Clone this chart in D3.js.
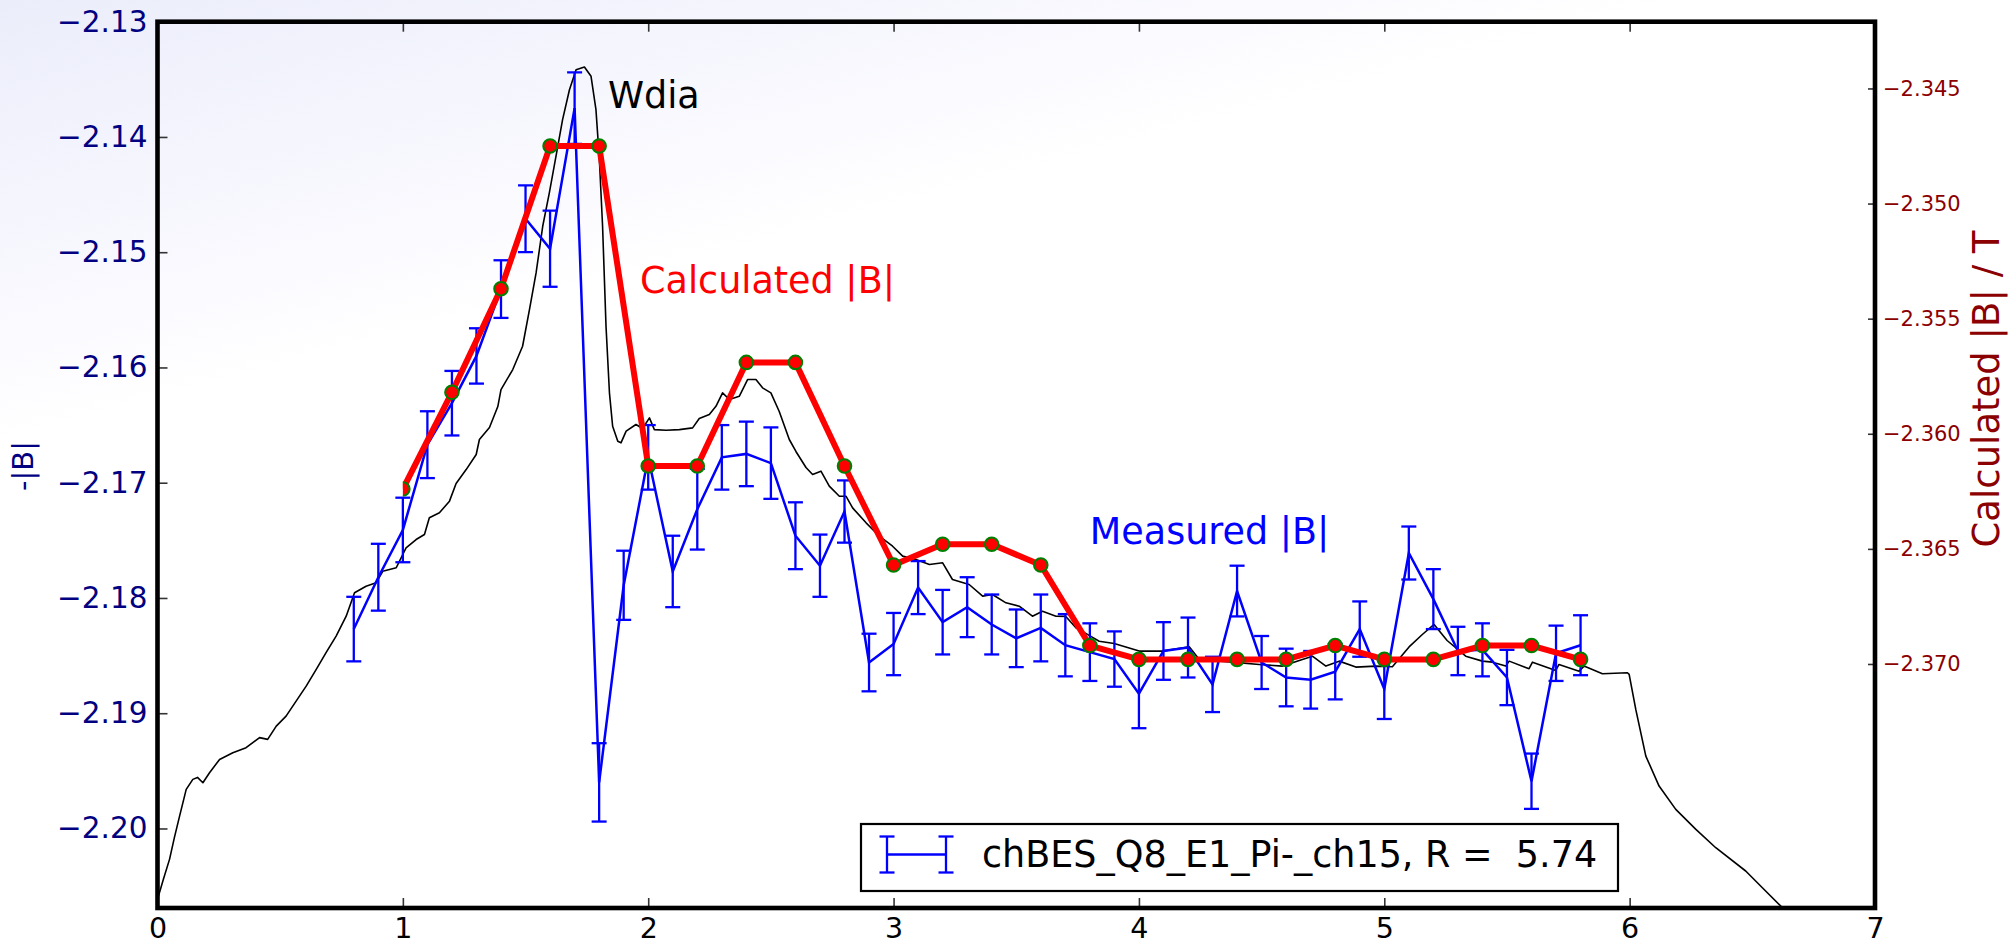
<!DOCTYPE html>
<html>
<head>
<meta charset="utf-8">
<script src="https://cdn.jsdelivr.net/npm/d3@7"></script>
<style>
  html, body { margin: 0; padding: 0; background: #fff; }
  svg { display: block; font-family: "DejaVu Sans", sans-serif; }
</style>
</head>
<body>
<svg id="chart" width="2015" height="946"></svg>
<script>
// ---- Measured |B| (left axis), with error bars ----
const measX = [0.8, 0.9, 1.0, 1.1, 1.2, 1.3, 1.4, 1.5, 1.6, 1.7,
               1.8, 1.9, 2.0, 2.1, 2.2, 2.3, 2.4, 2.5, 2.6, 2.7,
               2.8, 2.9, 3.0, 3.1, 3.2, 3.3, 3.4, 3.5, 3.6, 3.7,
               3.8, 3.9, 4.0, 4.1, 4.2, 4.3, 4.4, 4.5, 4.6, 4.7,
               4.8, 4.9, 5.0, 5.1, 5.2, 5.3, 5.4, 5.5, 5.6, 5.7, 5.8];
const measY = [-2.1827, -2.1782, -2.1741, -2.1667, -2.1631, -2.1590, -2.1532, -2.1471, -2.1497, -2.1375,
               -2.1960, -2.1789, -2.1678, -2.1777, -2.1723, -2.1678, -2.1675, -2.1683, -2.1746, -2.1772,
               -2.1725, -2.1856, -2.1840, -2.1791, -2.1821, -2.1808, -2.1823, -2.1835, -2.1826, -2.1841,
               -2.1847, -2.1853, -2.1883, -2.1846, -2.1843, -2.1875, -2.1794, -2.1856, -2.1869, -2.1871,
               -2.1864, -2.1827, -2.1879, -2.1761, -2.1801, -2.1846, -2.1845, -2.1869, -2.1959, -2.1848, -2.1841];
const measErr = [0.0028, 0.0029, 0.0028, 0.0029, 0.0028, 0.0024, 0.0025, 0.0029, 0.0033, 0.0031,
                 0.0034, 0.0030, 0.0028, 0.0031, 0.0035, 0.0028, 0.0028, 0.0031, 0.0029, 0.0027,
                 0.0027, 0.0025, 0.0027, 0.0023, 0.0028, 0.0026, 0.0026, 0.0025, 0.0029, 0.0027,
                 0.0025, 0.0024, 0.0030, 0.0025, 0.0026, 0.0024, 0.0022, 0.0023, 0.0025, 0.0025,
                 0.0024, 0.0024, 0.0026, 0.0023, 0.0026, 0.0021, 0.0023, 0.0024, 0.0024, 0.0024, 0.0026];

// ---- Calculated |B| (right axis) ----
const calcX = [1.0, 1.2, 1.4, 1.6, 1.8, 2.0, 2.2, 2.4, 2.6, 2.8, 3.0, 3.2, 3.4,
               3.6, 3.8, 4.0, 4.2, 4.4, 4.6, 4.8, 5.0, 5.2, 5.4, 5.6, 5.8];
const calcY = [-2.3624, -2.3582, -2.3537, -2.3475, -2.3475, -2.3614, -2.3614, -2.3569, -2.3569,
               -2.3614, -2.3657, -2.3648, -2.3648, -2.3657, -2.3692, -2.3698, -2.3698, -2.3698,
               -2.3698, -2.3692, -2.3698, -2.3698, -2.3692, -2.3692, -2.3698];

// ---- Wdia trace (left axis) ----
const wdiaX = [0.000, 0.024, 0.049, 0.069, 0.090, 0.117, 0.144, 0.163, 0.185, 0.212,
               0.253, 0.307, 0.361, 0.416, 0.449, 0.484, 0.524, 0.565, 0.606, 0.647,
               0.687, 0.728, 0.769, 0.803, 0.850, 0.891, 0.918, 0.973, 1.013, 1.054,
               1.088, 1.108, 1.149, 1.190, 1.217, 1.258, 1.299, 1.312, 1.353, 1.387,
               1.400, 1.448, 1.488, 1.516, 1.543, 1.570, 1.597, 1.624, 1.651, 1.679,
               1.706, 1.740, 1.767, 1.787, 1.801, 1.814, 1.828, 1.842, 1.855, 1.876,
               1.889, 1.910, 1.950, 1.977, 2.005, 2.025, 2.073, 2.127, 2.181, 2.208,
               2.249, 2.276, 2.303, 2.331, 2.371, 2.405, 2.439, 2.466, 2.500, 2.534,
               2.575, 2.602, 2.643, 2.670, 2.704, 2.738, 2.779, 2.806, 2.833, 2.888,
               2.942, 2.996, 3.037, 3.091, 3.146, 3.200, 3.240, 3.308, 3.363, 3.403,
               3.458, 3.512, 3.566, 3.607, 3.662, 3.702, 3.743, 3.797, 3.838, 3.899,
               4.001, 4.096, 4.205, 4.246, 4.381, 4.490, 4.585, 4.707, 4.762, 4.816,
               4.884, 4.966, 5.033, 5.101, 5.155, 5.203, 5.256, 5.332, 5.400, 5.441,
               5.495, 5.509, 5.590, 5.604, 5.699, 5.712, 5.794, 5.814, 5.889, 5.991,
               5.998, 6.025, 6.066, 6.120, 6.188, 6.270, 6.351, 6.473, 6.541, 6.616, 6.670];
const wdiaY = [-2.20615, -2.20441, -2.20268, -2.20077, -2.19893, -2.19661, -2.19574, -2.19557, -2.19603, -2.19516,
               -2.19401, -2.19343, -2.19299, -2.19212, -2.19227, -2.19112, -2.19025, -2.18895, -2.18765, -2.18620,
               -2.18475, -2.18331, -2.18158, -2.17955, -2.17898, -2.17868, -2.17768, -2.17738, -2.17565, -2.17493,
               -2.17449, -2.17304, -2.17261, -2.17160, -2.17007, -2.16886, -2.16755, -2.16625, -2.16521, -2.16339,
               -2.16192, -2.16018, -2.15816, -2.15498, -2.15180, -2.14775, -2.14486, -2.14168, -2.13850, -2.13590,
               -2.13416, -2.13393, -2.13474, -2.13763, -2.14197, -2.14775, -2.15643, -2.16220, -2.16510, -2.16640,
               -2.16654, -2.16553, -2.16495, -2.16530, -2.16437, -2.16539, -2.16545, -2.16539, -2.16524, -2.16443,
               -2.16408, -2.16337, -2.16220, -2.16278, -2.16250, -2.16105, -2.16105, -2.16177, -2.16220, -2.16382,
               -2.16625, -2.16729, -2.16868, -2.16929, -2.16900, -2.17030, -2.17117, -2.17117, -2.17218, -2.17348,
               -2.17464, -2.17551, -2.17637, -2.17666, -2.17709, -2.17695, -2.17840, -2.17883, -2.17984, -2.17970,
               -2.18042, -2.18071, -2.18158, -2.18115, -2.18158, -2.18160, -2.18258, -2.18325, -2.18375, -2.18395,
               -2.18461, -2.18461, -2.18423, -2.18533, -2.18557, -2.18577, -2.18591, -2.18505, -2.18591, -2.18548,
               -2.18600, -2.18591, -2.18597, -2.18425, -2.18317, -2.18230, -2.18369, -2.18505, -2.18548, -2.18557,
               -2.18591, -2.18548, -2.18614, -2.18557, -2.18629, -2.18577, -2.18635, -2.18591, -2.18657, -2.18649,
               -2.18663, -2.18967, -2.19372, -2.19632, -2.19834, -2.20008, -2.20167, -2.20369, -2.20514, -2.20673, -2.20788];

// ---- Axis ticks and labels ----
const xTicks = [0, 1, 2, 3, 4, 5, 6, 7];
const leftTicks = [-2.13, -2.14, -2.15, -2.16, -2.17, -2.18, -2.19, -2.20];
const rightTicks = [-2.345, -2.350, -2.355, -2.360, -2.365, -2.370];
const leftAxisLabel = "-|B|";
const rightAxisLabel = "Calculated |B| / T";
const legendLabel = "chBES_Q8_E1_Pi-_ch15, R =  5.74";
// text annotations, in (x, left-axis) data units
const notes = [
  { text: "Wdia",           x: 1.836, y: -2.13752, color: "#000000" },
  { text: "Calculated |B|", x: 1.967, y: -2.15357, color: "#ff0000" },
  { text: "Measured |B|",   x: 3.800, y: -2.17533, color: "#0000ff" }
];

// ---------------------------------------------------------------
const svg = d3.select("#chart");
const W = 2015, H = 946;
const plot = { left: 157.5, right: 1875, top: 21.7, bottom: 908 };

const x  = d3.scaleLinear().domain([0, 7]).range([plot.left, plot.right]);
const yL = d3.scaleLinear().domain([-2.2069, -2.13]).range([plot.bottom, plot.top]);
const yR = d3.scaleLinear().domain([-2.3806, -2.3421]).range([plot.bottom, plot.top]);

const defs = svg.append("defs");
// soft lavender wash from the top-left corner of the figure
const grad = defs.append("linearGradient")
  .attr("id", "bgGrad").attr("gradientUnits", "userSpaceOnUse")
  .attr("x1", 0).attr("y1", 0).attr("x2", 110).attr("y2", 415);
grad.append("stop").attr("offset", 0).attr("stop-color", "#ebedfa");
grad.append("stop").attr("offset", 0.45).attr("stop-color", "#f4f5fd");
grad.append("stop").attr("offset", 0.8).attr("stop-color", "#fbfbff");
grad.append("stop").attr("offset", 1).attr("stop-color", "#ffffff");

defs.append("clipPath").attr("id", "plotClip").append("rect")
  .attr("x", plot.left).attr("y", plot.top)
  .attr("width", plot.right - plot.left).attr("height", plot.bottom - plot.top);
defs.append("clipPath").attr("id", "calcClip").append("rect")
  .attr("x", x(1.0)).attr("y", plot.top)
  .attr("width", plot.right - x(1.0)).attr("height", plot.bottom - plot.top);

svg.append("rect").attr("width", W).attr("height", H).attr("fill", "url(#bgGrad)");

// Wdia trace
const wdia = wdiaX.map((v, i) => [v, wdiaY[i]]);
svg.append("g").attr("clip-path", "url(#plotClip)")
  .append("path")
  .attr("d", d3.line().x(d => x(d[0])).y(d => yL(d[1]))(wdia))
  .attr("fill", "none").attr("stroke", "#000").attr("stroke-width", 1.6)
  .attr("stroke-linejoin", "round");

// Measured |B| with error bars
const meas = measX.map((v, i) => ({ x: v, y: measY[i], e: measErr[i] }));
const gMeas = svg.append("g").attr("clip-path", "url(#plotClip)");
gMeas.append("path")
  .attr("d", d3.line().x(d => x(d.x)).y(d => yL(d.y))(meas))
  .attr("fill", "none").attr("stroke", "#0000ff").attr("stroke-width", 2.5);
const cap = 7.5;
const eb = gMeas.selectAll("g.eb").data(meas).join("g").attr("class", "eb")
  .attr("stroke", "#0000ff").attr("stroke-width", 2.3);
eb.append("line")
  .attr("x1", d => x(d.x)).attr("x2", d => x(d.x))
  .attr("y1", d => yL(d.y + d.e)).attr("y2", d => yL(d.y - d.e));
eb.append("line")
  .attr("x1", d => x(d.x) - cap).attr("x2", d => x(d.x) + cap)
  .attr("y1", d => yL(d.y + d.e)).attr("y2", d => yL(d.y + d.e));
eb.append("line")
  .attr("x1", d => x(d.x) - cap).attr("x2", d => x(d.x) + cap)
  .attr("y1", d => yL(d.y - d.e)).attr("y2", d => yL(d.y - d.e));

// Annotations
svg.selectAll("text.note").data(notes).join("text").attr("class", "note")
  .attr("x", d => x(d.x)).attr("y", d => yL(d.y))
  .attr("fill", d => d.color).attr("font-size", "36.5px")
  .text(d => d.text);

// Legend
const leg = svg.append("g");
leg.append("rect").attr("x", 861).attr("y", 824).attr("width", 757).attr("height", 67)
  .attr("fill", "#fff").attr("stroke", "#000").attr("stroke-width", 2.2);
const hy = 854.5, hx0 = 887, hx1 = 946, hh = 18;
const lh = leg.append("g").attr("stroke", "#0000ff").attr("stroke-width", 2.3);
lh.append("line").attr("x1", hx0).attr("x2", hx1).attr("y1", hy).attr("y2", hy);
[hx0, hx1].forEach(px => {
  lh.append("line").attr("x1", px).attr("x2", px).attr("y1", hy - hh).attr("y2", hy + hh);
  lh.append("line").attr("x1", px - cap).attr("x2", px + cap).attr("y1", hy - hh).attr("y2", hy - hh);
  lh.append("line").attr("x1", px - cap).attr("x2", px + cap).attr("y1", hy + hh).attr("y2", hy + hh);
});
leg.append("text").attr("x", 982).attr("y", 867)
  .attr("font-size", "36.5px").attr("fill", "#000")
  .style("white-space", "pre").text(legendLabel);

// Calculated |B| (twin axis, drawn on top)
const calc = calcX.map((v, i) => [v, calcY[i]]);
const gCalc = svg.append("g").attr("clip-path", "url(#calcClip)");
gCalc.append("path")
  .attr("d", d3.line().x(d => x(d[0])).y(d => yR(d[1]))(calc))
  .attr("fill", "none").attr("stroke", "#ff0000").attr("stroke-width", 6)
  .attr("stroke-linejoin", "round");
gCalc.selectAll("circle").data(calc).join("circle")
  .attr("cx", d => x(d[0])).attr("cy", d => yR(d[1])).attr("r", 6.8)
  .attr("fill", "#ff0000").attr("stroke", "#008000").attr("stroke-width", 2);

// Axes (ticks point inward)
function styleAxis(g, color, size) {
  g.select(".domain").remove();
  g.selectAll(".tick line").attr("stroke", "#333").attr("stroke-width", 1.6);
  g.selectAll(".tick text").attr("fill", color).attr("font-size", size)
    .attr("font-family", "DejaVu Sans");
}
svg.append("g").attr("transform", `translate(${plot.left},0)`)
  .call(d3.axisLeft(yL).tickValues(leftTicks).tickSize(-10).tickPadding(10).tickFormat(d3.format(".2f")))
  .call(g => styleAxis(g, "#000080", "29.5px"));
svg.append("g").attr("transform", `translate(0,${plot.bottom})`)
  .call(d3.axisBottom(x).tickValues(xTicks).tickSize(-10).tickPadding(10).tickFormat(d3.format("d")))
  .call(g => styleAxis(g, "#000000", "28.5px"));
svg.append("g").attr("transform", `translate(0,${plot.top})`)
  .call(d3.axisTop(x).tickValues(xTicks).tickSize(-10).tickFormat(""))
  .call(g => styleAxis(g, "#000000", "28.5px"));
svg.append("g").attr("transform", `translate(${plot.right},0)`)
  .call(d3.axisRight(yR).tickValues(rightTicks).tickSize(-7).tickPadding(8).tickFormat(d3.format(".3f")))
  .call(g => styleAxis(g, "#8b0000", "21px"));

// Frame
svg.append("rect")
  .attr("x", plot.left).attr("y", plot.top)
  .attr("width", plot.right - plot.left).attr("height", plot.bottom - plot.top)
  .attr("fill", "none").attr("stroke", "#000").attr("stroke-width", 4.6);

// Axis titles
svg.append("text")
  .attr("transform", `translate(33,466) rotate(-90)`)
  .attr("text-anchor", "middle").attr("fill", "#000080").attr("font-size", "29px")
  .text(leftAxisLabel);
svg.append("text")
  .attr("transform", `translate(1999,389) rotate(-90)`)
  .attr("text-anchor", "middle").attr("fill", "#8b0000").attr("font-size", "37px")
  .text(rightAxisLabel);
</script>
</body>
</html>
